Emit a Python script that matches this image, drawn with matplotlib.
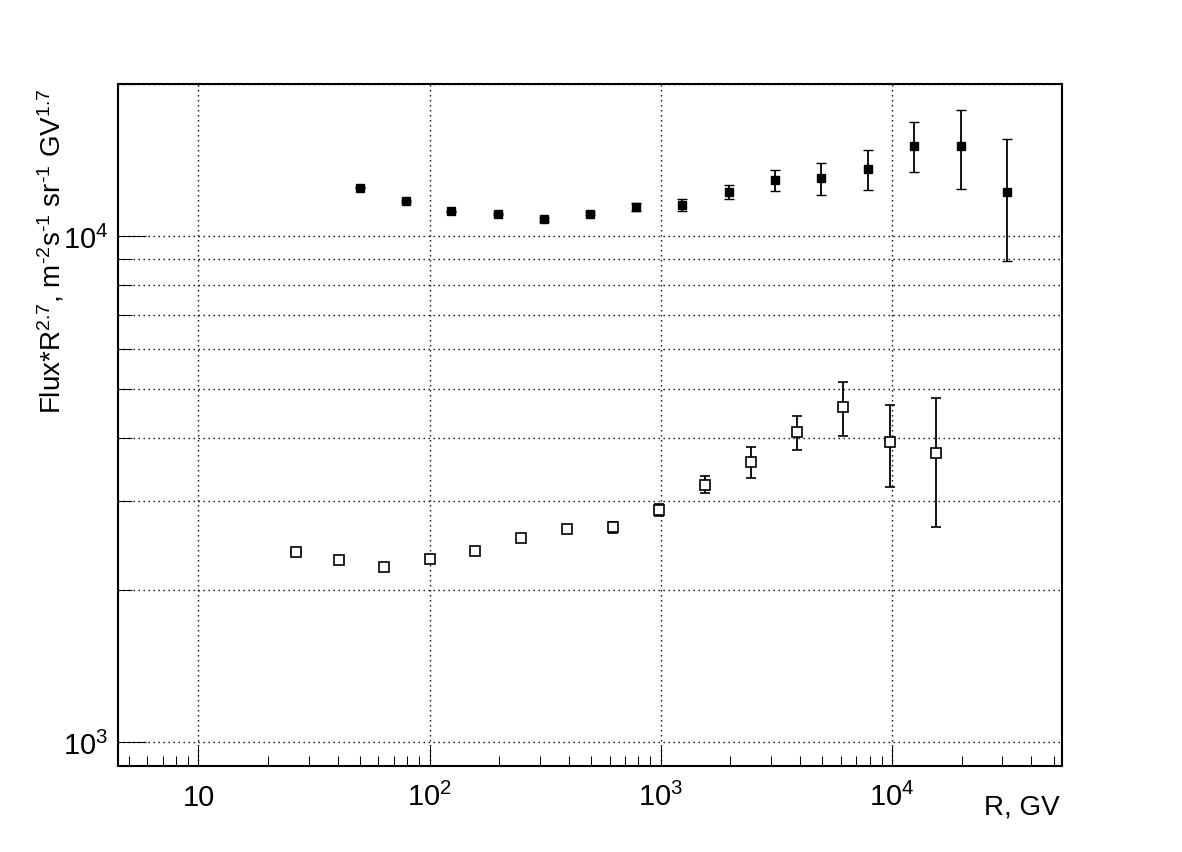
import numpy as np
import matplotlib
matplotlib.use("Agg")
import matplotlib.pyplot as plt
from matplotlib.ticker import LogLocator, NullFormatter, FixedLocator

plt.rcParams['font.family'] = ['Liberation Sans', 'DejaVu Sans']
plt.rcParams['mathtext.fontset'] = 'custom'
plt.rcParams['mathtext.rm'] = 'Liberation Sans'
plt.rcParams['mathtext.it'] = 'Liberation Sans:italic'
plt.rcParams['mathtext.bf'] = 'Liberation Sans:bold'

# filled squares
top_R = [50.1, 79.1, 124, 198, 313, 494, 780, 1231, 1968, 3113, 4944, 7870, 12450, 19820, 31330]
top_flux = [12480, 11740, 11200, 11050, 10800, 11080, 11430, 11550, 12230, 12900, 13020, 13600, 15100, 15100, 12250]
top_err = [40, 40, 45, 50, 60, 80, 210, 310, 390, 620, 950, 1240, 1700, 2700, 3300]

# open squares
bot_R = [26.4, 40.6, 63.2, 100, 157, 248, 392, 618, 985, 1545, 2455, 3880, 6140, 9780, 15550]
bot_flux = [2380, 2290, 2220, 2300, 2390, 2530, 2640, 2660, 2880, 3230, 3580, 4100, 4590, 3920, 3730]
bot_err = [30, 30, 30, 30, 35, 40, 45, 65, 83, 125, 257, 314, 553, 725, 1060]

xticks = [10, 100, 1000, 10000]
xticklabels = ['10', '$10^{2}$', '$10^{3}$', '$10^{4}$']
yticks = [1000, 10000]
yticklabels = ['$10^{3}$', '$10^{4}$']

fig = plt.figure(figsize=(11.82, 8.53), dpi=100)
ax = fig.add_axes([118/1182, 1-767/853, 944/1182, 682/853])

ax.errorbar(top_R, top_flux, yerr=top_err, fmt='s', ms=6.2, mfc='k', mec='k', mew=1.0,
            ecolor='k', elinewidth=1.3, capsize=3.5, capthick=1.3, zorder=3)
ax.errorbar(bot_R, bot_flux, yerr=bot_err, fmt='s', ms=6.8, mfc='white', mec='k', mew=1.2,
            ecolor='k', elinewidth=1.3, capsize=3.5, capthick=1.3, zorder=3)

ax.set_xscale('log')
ax.set_yscale('log')
ax.set_xlim(4.49, 54300)
ax.set_ylim(898, 20000)

ax.xaxis.set_major_locator(FixedLocator(xticks))
ax.xaxis.set_minor_locator(LogLocator(base=10, subs=np.arange(2, 10), numticks=20))
ax.xaxis.set_minor_formatter(NullFormatter())
ax.set_xticks(xticks)
ax.set_xticklabels(xticklabels)
ax.yaxis.set_minor_locator(LogLocator(base=10, subs=np.arange(2, 10), numticks=20))
ax.yaxis.set_minor_formatter(NullFormatter())
ax.set_yticks(yticks)
ax.set_yticklabels(yticklabels)

ax.tick_params(axis='both', which='both', direction='in', width=0.75, colors='k',
               top=False, right=False, labelsize=21)
ax.tick_params(axis='x', which='major', length=14.4, pad=28)
ax.tick_params(axis='x', which='minor', length=7.2)
ax.tick_params(axis='y', which='major', length=20, pad=7)
ax.tick_params(axis='y', which='minor', length=10)
for t in ax.get_xticklabels():
    t.set_va('baseline')

grid_style = dict(color='k', linestyle=(0, (1, 2.6)), linewidth=1.0)
ax.xaxis.grid(True, which='major', **grid_style)
ax.yaxis.grid(True, which='both', **grid_style)
ax.set_axisbelow(True)

for s in ax.spines.values():
    s.set_linewidth(1.5)

ax.set_ylabel('Flux*R$^{2.7}$, m$^{\u20102}$s$^{\u20101}$ sr$^{\u20101}$ GV$^{1.7}$',
              fontsize=20, loc='top')
ax.yaxis.set_label_coords(-0.055, 0.995)
ax.set_xlabel('R, GV', fontsize=20, loc='right')
ax.xaxis.set_label_coords(0.998, -0.041)

fig.savefig('out.png', dpi=100)
